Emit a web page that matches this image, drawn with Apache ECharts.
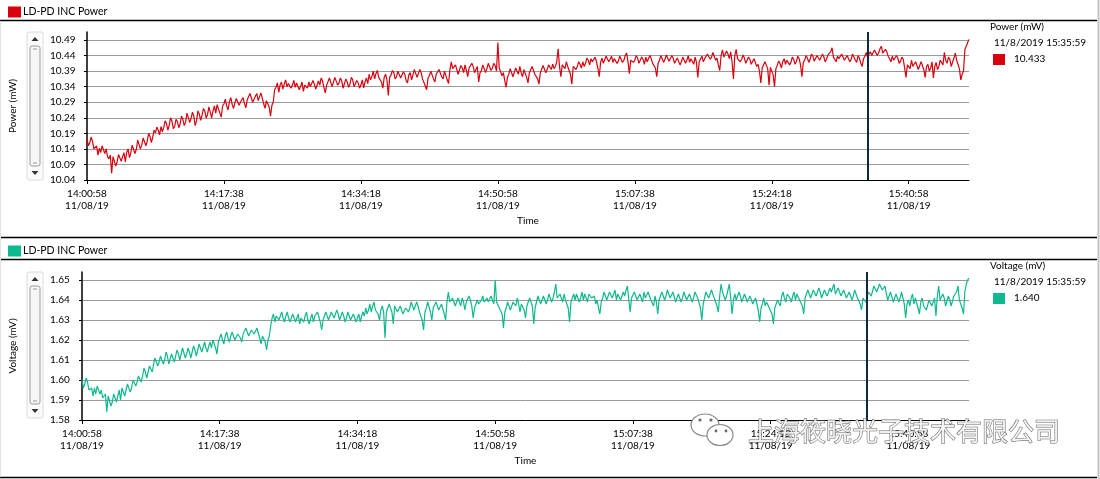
<!DOCTYPE html>
<html><head><meta charset="utf-8">
<script src="https://cdn.jsdelivr.net/npm/echarts@6.0.0/dist/echarts.min.js"></script>
<style>html,body{margin:0;padding:0;background:#fff}#c{width:1100px;height:479px}</style>
</head><body><div id="c"></div>
<script>
// ---- data (seconds after 14:00:58, one logged value every sampleStep seconds) ----
const sampleStep = 10;
const powerValues = [
10.172,10.150,10.160,10.178,10.165,10.140,10.138,10.150,10.120,10.142,10.128,10.150,10.150,10.125,10.140,10.115,10.108,10.120,10.062,10.115,10.110,10.085,10.098,10.122,10.125,10.100,10.115,10.128,10.098,10.130,10.140,10.112,10.128,10.152,10.150,10.125,10.138,10.168,10.165,10.140,10.152,10.175,10.172,10.150,10.165,10.190,10.180,10.160,10.178,10.200,10.192,10.210,10.200,10.185,10.212,10.195,10.208,10.230,10.222,10.200,10.215,10.240,10.230,10.205,10.212,10.235,10.228,10.208,10.220,10.245,10.235,10.215,10.226,10.255,10.250,10.225,10.238,10.258,10.245,10.215,10.230,10.262,10.252,10.232,10.248,10.270,10.262,10.240,10.250,10.275,10.258,10.240,10.262,10.278,10.255,10.282,10.280,10.255,10.242,10.278,
10.285,10.300,10.278,10.265,10.292,10.305,10.283,10.270,10.288,10.302,10.298,10.280,10.280,10.298,10.305,10.285,10.272,10.298,10.300,10.318,10.312,10.290,10.285,10.310,10.318,10.295,10.295,10.320,10.325,10.285,10.270,10.295,10.300,10.275,10.245,10.280,10.290,10.330,10.338,10.352,10.322,10.345,10.355,10.332,10.348,10.362,10.340,10.350,10.352,10.335,10.345,10.360,10.338,10.352,10.350,10.330,10.342,10.355,10.325,10.345,10.348,10.335,10.355,10.340,10.340,10.360,10.348,10.332,10.336,10.358,10.345,10.368,10.358,10.338,10.320,10.345,10.350,10.368,10.362,10.340,10.345,10.370,10.365,10.345,10.352,10.368,10.358,10.335,10.340,10.365,10.355,10.338,10.348,10.370,10.362,10.340,10.338,10.360,10.352,10.335,
10.345,10.362,10.336,10.355,10.368,10.350,10.380,10.362,10.372,10.390,10.365,10.382,10.392,10.370,10.372,10.355,10.335,10.370,10.380,10.362,10.312,10.370,10.378,10.392,10.385,10.365,10.372,10.390,10.388,10.368,10.365,10.388,10.380,10.360,10.352,10.378,10.385,10.362,10.378,10.395,10.390,10.370,10.372,10.395,10.385,10.365,10.360,10.342,10.330,10.368,10.375,10.390,10.388,10.365,10.355,10.380,10.380,10.395,10.392,10.372,10.365,10.390,10.385,10.362,10.350,10.395,10.420,10.398,10.395,10.410,10.405,10.380,10.385,10.408,10.400,10.385,10.410,10.392,10.372,10.400,10.398,10.415,10.405,10.385,10.390,10.405,10.355,10.385,10.392,10.410,10.405,10.385,10.398,10.415,10.410,10.392,10.400,10.415,10.408,10.390,
10.482,10.400,10.398,10.375,10.385,10.360,10.338,10.370,10.380,10.398,10.392,10.372,10.375,10.400,10.398,10.380,10.405,10.385,10.372,10.395,10.395,10.370,10.352,10.385,10.390,10.405,10.402,10.380,10.382,10.365,10.348,10.385,10.385,10.408,10.405,10.385,10.395,10.410,10.408,10.395,10.412,10.398,10.405,10.420,10.462,10.405,10.372,10.410,10.412,10.398,10.420,10.405,10.405,10.380,10.348,10.405,10.410,10.395,10.405,10.420,10.412,10.400,10.420,10.405,10.415,10.432,10.425,10.410,10.430,10.420,10.418,10.435,10.420,10.400,10.372,10.418,10.432,10.415,10.420,10.438,10.438,10.420,10.425,10.438,10.418,10.430,10.430,10.415,10.422,10.438,10.432,10.418,10.425,10.440,10.448,10.420,10.382,10.425,10.430,10.418,
10.425,10.440,10.432,10.415,10.418,10.435,10.428,10.412,10.435,10.420,10.422,10.440,10.430,10.415,10.418,10.400,10.372,10.415,10.425,10.440,10.435,10.418,10.428,10.442,10.440,10.422,10.425,10.440,10.432,10.415,10.418,10.432,10.428,10.410,10.420,10.435,10.432,10.415,10.425,10.440,10.418,10.430,10.428,10.412,10.435,10.418,10.370,10.420,10.425,10.438,10.420,10.430,10.432,10.445,10.440,10.428,10.435,10.450,10.448,10.425,10.432,10.410,10.392,10.440,10.458,10.435,10.440,10.455,10.445,10.430,10.452,10.420,10.365,10.440,10.460,10.430,10.435,10.420,10.428,10.442,10.432,10.415,10.420,10.435,10.428,10.412,10.418,10.430,10.425,10.405,10.412,10.390,10.352,10.400,10.405,10.420,10.415,10.398,10.345,10.402,
10.400,10.378,10.340,10.398,10.408,10.422,10.415,10.400,10.420,10.430,10.412,10.425,10.425,10.410,10.418,10.435,10.428,10.412,10.422,10.438,10.430,10.410,10.372,10.418,10.425,10.440,10.432,10.418,10.428,10.445,10.438,10.422,10.425,10.440,10.442,10.425,10.430,10.445,10.436,10.420,10.428,10.442,10.440,10.452,10.465,10.435,10.430,10.420,10.438,10.430,10.425,10.445,10.442,10.425,10.420,10.440,10.435,10.420,10.428,10.445,10.440,10.425,10.418,10.440,10.432,10.415,10.405,10.430,10.438,10.450,10.433,10.445,10.452,10.440,10.440,10.458,10.455,10.440,10.448,10.462,10.470,10.448,10.445,10.460,10.452,10.438,10.430,10.420,10.438,10.425,10.425,10.440,10.432,10.415,10.422,10.435,10.428,10.400,10.370,10.410,
10.415,10.398,10.425,10.405,10.405,10.420,10.420,10.395,10.398,10.420,10.425,10.395,10.370,10.405,10.412,10.390,10.400,10.420,10.368,10.405,10.418,10.395,10.405,10.425,10.425,10.410,10.450,10.425,10.415,10.435,10.428,10.405,10.410,10.432,10.448,10.425,10.420,10.398,10.362,10.380,10.390,10.460,10.470,10.482,10.492
];
const voltageValues = [
1.600,1.596,1.598,1.601,1.599,1.595,1.594,1.596,1.592,1.596,1.593,1.597,1.597,1.593,1.595,1.591,1.590,1.593,1.584,1.592,1.591,1.587,1.589,1.593,1.594,1.589,1.592,1.595,1.590,1.596,1.597,1.592,1.595,1.598,1.598,1.594,1.596,1.600,1.601,1.597,1.599,1.602,1.603,1.599,1.602,1.606,1.604,1.601,1.604,1.607,1.607,1.604,1.608,1.611,1.610,1.607,1.609,1.612,1.611,1.608,1.610,1.614,1.612,1.608,1.609,1.613,1.612,1.609,1.610,1.615,1.613,1.610,1.611,1.616,1.615,1.611,1.613,1.616,1.614,1.611,1.612,1.617,1.615,1.612,1.615,1.618,1.617,1.614,1.615,1.619,1.616,1.614,1.617,1.619,1.616,1.620,1.620,1.616,1.613,1.619,
1.621,1.623,1.620,1.618,1.622,1.624,1.621,1.619,1.622,1.624,1.623,1.620,1.620,1.623,1.624,1.621,1.619,1.623,1.623,1.626,1.625,1.622,1.621,1.625,1.626,1.623,1.622,1.626,1.627,1.621,1.618,1.622,1.623,1.619,1.615,1.620,1.622,1.627,1.631,1.633,1.629,1.632,1.633,1.630,1.632,1.634,1.631,1.629,1.632,1.634,1.631,1.629,1.630,1.633,1.632,1.629,1.631,1.633,1.628,1.631,1.631,1.629,1.632,1.634,1.630,1.628,1.631,1.633,1.629,1.632,1.631,1.634,1.633,1.629,1.625,1.630,1.631,1.634,1.633,1.630,1.630,1.634,1.634,1.631,1.632,1.635,1.633,1.630,1.629,1.634,1.632,1.629,1.631,1.634,1.633,1.630,1.629,1.633,1.631,1.629,
1.630,1.633,1.629,1.632,1.634,1.632,1.636,1.633,1.635,1.638,1.634,1.637,1.639,1.635,1.635,1.633,1.630,1.635,1.637,1.634,1.621,1.634,1.636,1.638,1.637,1.634,1.628,1.637,1.637,1.634,1.633,1.637,1.636,1.633,1.632,1.636,1.637,1.634,1.636,1.639,1.638,1.635,1.635,1.639,1.637,1.634,1.633,1.630,1.625,1.634,1.636,1.639,1.638,1.634,1.630,1.636,1.636,1.639,1.638,1.635,1.634,1.638,1.637,1.633,1.630,1.639,1.644,1.639,1.639,1.641,1.641,1.637,1.637,1.641,1.640,1.637,1.641,1.639,1.635,1.639,1.639,1.642,1.640,1.637,1.631,1.636,1.636,1.640,1.638,1.637,1.640,1.642,1.639,1.638,1.641,1.639,1.639,1.642,1.640,1.638,
1.650,1.639,1.639,1.636,1.637,1.633,1.626,1.634,1.636,1.639,1.639,1.635,1.635,1.639,1.640,1.637,1.641,1.638,1.634,1.638,1.639,1.635,1.631,1.637,1.638,1.641,1.640,1.637,1.628,1.636,1.639,1.642,1.641,1.638,1.639,1.642,1.641,1.638,1.640,1.643,1.642,1.639,1.641,1.644,1.648,1.641,1.640,1.643,1.642,1.639,1.643,1.640,1.641,1.636,1.629,1.639,1.641,1.643,1.640,1.643,1.642,1.639,1.641,1.644,1.640,1.643,1.642,1.639,1.643,1.644,1.641,1.640,1.642,1.638,1.640,1.636,1.633,1.639,1.641,1.644,1.643,1.640,1.641,1.644,1.644,1.641,1.642,1.645,1.640,1.643,1.643,1.640,1.641,1.644,1.642,1.645,1.647,1.640,1.634,1.641,
1.641,1.644,1.643,1.640,1.640,1.643,1.642,1.639,1.644,1.641,1.641,1.644,1.643,1.640,1.640,1.637,1.642,1.639,1.633,1.640,1.641,1.644,1.643,1.640,1.642,1.645,1.644,1.641,1.641,1.644,1.643,1.639,1.640,1.643,1.642,1.639,1.641,1.644,1.643,1.640,1.640,1.643,1.642,1.639,1.641,1.644,1.643,1.641,1.640,1.636,1.630,1.638,1.641,1.644,1.643,1.641,1.642,1.645,1.644,1.641,1.641,1.637,1.634,1.642,1.648,1.644,1.643,1.640,1.642,1.645,1.648,1.641,1.633,1.640,1.643,1.640,1.641,1.644,1.642,1.639,1.640,1.643,1.642,1.639,1.640,1.642,1.641,1.638,1.639,1.641,1.638,1.635,1.629,1.636,1.638,1.641,1.637,1.639,1.639,1.636,
1.636,1.633,1.628,1.636,1.637,1.640,1.640,1.637,1.642,1.644,1.641,1.639,1.643,1.644,1.641,1.639,1.642,1.644,1.640,1.643,1.643,1.640,1.641,1.637,1.633,1.641,1.642,1.645,1.644,1.641,1.642,1.645,1.645,1.642,1.643,1.646,1.644,1.641,1.642,1.645,1.645,1.642,1.643,1.646,1.644,1.643,1.648,1.643,1.643,1.646,1.645,1.642,1.642,1.645,1.644,1.641,1.641,1.644,1.643,1.640,1.642,1.645,1.644,1.641,1.641,1.638,1.635,1.641,1.642,1.639,1.640,1.644,1.645,1.642,1.643,1.647,1.646,1.644,1.644,1.648,1.649,1.645,1.644,1.647,1.643,1.640,1.641,1.644,1.643,1.639,1.640,1.643,1.642,1.639,1.641,1.644,1.643,1.638,1.631,1.638,
1.640,1.637,1.641,1.643,1.638,1.641,1.640,1.636,1.633,1.639,1.641,1.637,1.638,1.635,1.634,1.640,1.640,1.637,1.638,1.641,1.632,1.642,1.647,1.640,1.639,1.643,1.641,1.637,1.638,1.642,1.640,1.637,1.637,1.642,1.641,1.644,1.647,1.640,1.639,1.636,1.633,1.644,1.648,1.650,1.651
];
const xTickValues = [0, 1000, 2000, 3000, 4000, 5000, 6000];
const xTickLabels = ['14:00:58', '14:17:38', '14:34:18', '14:50:58', '15:07:38', '15:24:18', '15:40:58'];
const xDateLabel = '11/08/19';
const xEnd = 6440;
const cursorTime = 5700;
const cursorStamp = '11/8/2019 15:35:59';
const cursorPower = '10.433';
const cursorVoltage = '1.640';
const powerAxis = { min: 10.04, interval: 0.05, top: 10.49 };
const voltageAxis = { min: 1.58, interval: 0.01, top: 1.65 };
const titleText = 'LD-PD INC Power';
const powerName = 'Power (mW)';
const voltageName = 'Voltage (mV)';
const watermarkText = '上海筱晓光子技术有限公司';

// ---- build ----
const powerData = powerValues.map((v, i) => [i * sampleStep, v]);
const voltageData = voltageValues.map((v, i) => [i * sampleStep, v]);
const RED = '#d9000d', TEAL = '#0fb98f';
const FONT = 'Lato, "Noto Sans", sans-serif';

const G = [
  { left: 87, top: 32, width: 882, height: 148 },
  { left: 82, top: 272, width: 887, height: 148 }
];
function axisMax(a, g) { return a.min + (a.top - a.min) * g.height / 140; }

function xAxisCfg(i) {
  return {
    type: 'value', gridIndex: i, min: 0, max: xEnd,
    name: 'Time', nameLocation: 'middle', nameGap: 36,
    nameTextStyle: { color: '#000', fontSize: 10, fontFamily: FONT },
    axisLine: { lineStyle: { color: '#000', width: 1 } },
    axisTick: { customValues: xTickValues, length: 4, lineStyle: { color: '#000' } },
    axisLabel: {
      customValues: xTickValues, margin: 8, color: '#000', fontSize: 10, lineHeight: 12, fontFamily: FONT,
      formatter: v => xTickLabels[xTickValues.indexOf(v)] + '\n' + xDateLabel
    },
    splitLine: { show: false }
  };
}
function yAxisCfg(i, a, name, gap, lm) {
  return {
    type: 'value', gridIndex: i, min: a.min, max: axisMax(a, G[i]), interval: a.interval,
    name: name, nameLocation: 'middle', nameGap: gap, nameRotate: 90,
    nameTextStyle: { color: '#000', fontSize: 10, fontFamily: FONT },
    axisLine: { show: true, lineStyle: { color: '#000', width: 1.5 } },
    axisTick: { show: true, length: 3, lineStyle: { color: '#000' } },
    axisLabel: { color: '#000', fontSize: 10, fontFamily: FONT, margin: lm, align: 'left', showMaxLabel: false,
      formatter: v => v.toFixed(2) },
    splitLine: { show: true, showMaxLine: false, lineStyle: { color: '#9a9a9a', width: 1 } }
  };
}
function cursorLine() {
  return { silent: true, symbol: ['none', 'none'], label: { show: false },
    lineStyle: { color: '#0c2a42', width: 2, type: 'solid' }, emphasis: { disabled: true },
    data: [{ xAxis: cursorTime }] };
}
function scrollbar(y0, h) {
  const x0 = 27, w = 16;
  return [
    { type: 'rect', shape: { x: x0, y: y0, width: w, height: h, r: 2 }, style: { fill: '#fbfbfb', stroke: '#dadada', lineWidth: 1 } },
    { type: 'polygon', shape: { points: [[x0 + 4.5, y0 + 9], [x0 + 11.5, y0 + 9], [x0 + 8, y0 + 5]] }, style: { fill: '#333' } },
    { type: 'polygon', shape: { points: [[x0 + 4.5, y0 + h - 9], [x0 + 11.5, y0 + h - 9], [x0 + 8, y0 + h - 5]] }, style: { fill: '#333' } },
    { type: 'rect', shape: { x: x0 + 3, y: y0 + 14, width: 10, height: h - 28, r: 2 }, style: { fill: '#f6f6f6', stroke: '#9c9c9c', lineWidth: 1 } },
    { type: 'line', shape: { x1: x0 + 6, y1: y0 + 17, x2: x0 + 10, y2: y0 + 17 }, style: { stroke: '#999', lineWidth: 1 } },
    { type: 'line', shape: { x1: x0 + 6, y1: y0 + h - 17, x2: x0 + 10, y2: y0 + h - 17 }, style: { stroke: '#999', lineWidth: 1 } }
  ];
}
function header(y, color) {
  return [
    { type: 'rect', shape: { x: 8, y: y - 5, width: 13, height: 11 }, style: { fill: color } },
    { type: 'text', x: 23, y: y, style: { text: titleText, fill: '#000', font: '10.5px ' + FONT, verticalAlign: 'middle' } }
  ];
}
function readout(y, name, color, value) {
  return [
    { type: 'text', x: 990, y: y, style: { text: name, fill: '#000', font: '10px ' + FONT, verticalAlign: 'middle' } },
    { type: 'text', x: 994, y: y + 16, style: { text: cursorStamp, fill: '#000', font: '10px ' + FONT, verticalAlign: 'middle' } },
    { type: 'rect', shape: { x: 993, y: y + 27, width: 12, height: 11 }, style: { fill: color } },
    { type: 'text', x: 1014, y: y + 32, style: { text: value, fill: '#000', font: '10px ' + FONT, verticalAlign: 'middle' } }
  ];
}
function hline(y, w, c) { return { type: 'line', shape: { x1: 0, y1: y, x2: 1097, y2: y }, style: { stroke: c || '#000', lineWidth: w } }; }

const wm = [
  { type: 'ellipse', shape: { cx: 705, cy: 425, rx: 14, ry: 11 }, style: { fill: '#fff', stroke: '#8a8a8a', lineWidth: 1.2 } },
  { type: 'circle', shape: { cx: 700, cy: 420, r: 1.6 }, style: { fill: '#666' } },
  { type: 'circle', shape: { cx: 711, cy: 420, r: 1.6 }, style: { fill: '#666' } },
  { type: 'ellipse', shape: { cx: 720, cy: 435, rx: 13, ry: 10.5 }, style: { fill: '#fff', stroke: '#8a8a8a', lineWidth: 1.2 } },
  { type: 'circle', shape: { cx: 716, cy: 431, r: 1.4 }, style: { fill: '#666' } },
  { type: 'circle', shape: { cx: 726, cy: 431, r: 1.4 }, style: { fill: '#666' } },
  { type: 'text', x: 748, y: 431, style: { text: watermarkText, fill: 'rgba(250,250,250,0.85)', stroke: '#666', lineWidth: 1,
      font: '26px "Noto Sans CJK SC"', verticalAlign: 'middle' } }
];

const chart = echarts.init(document.getElementById('c'), null, { renderer: 'canvas' });
chart.setOption({
  animation: false,
  backgroundColor: '#fff',
  grid: G.map(g => Object.assign({ containLabel: false }, g)),
  xAxis: [xAxisCfg(0), xAxisCfg(1)],
  yAxis: [yAxisCfg(0, powerAxis, powerName, 69, 37), yAxisCfg(1, voltageAxis, voltageName, 64, 32)],
  series: [
    { type: 'line', xAxisIndex: 0, yAxisIndex: 0, data: powerData, showSymbol: false,
      lineStyle: { color: RED, width: 1.2 }, itemStyle: { color: RED }, emphasis: { disabled: true }, markLine: cursorLine() },
    { type: 'line', xAxisIndex: 1, yAxisIndex: 1, data: voltageData, showSymbol: false,
      lineStyle: { color: TEAL, width: 1.2 }, itemStyle: { color: TEAL }, emphasis: { disabled: true }, markLine: cursorLine() }
  ],
  graphic: { elements: [].concat(
    header(11.5, RED), [hline(20.5, 1.5), hline(237.5, 1.5)],
    header(250.5, TEAL), [hline(259.5, 1.5), hline(477.5, 1.5)],
    [{ type: 'line', shape: { x1: 1098.5, y1: 0, x2: 1098.5, y2: 479 }, style: { stroke: '#c4c4c4', lineWidth: 2 } },
     { type: 'line', shape: { x1: 0.5, y1: 21, x2: 0.5, y2: 477 }, style: { stroke: '#e2e2e2', lineWidth: 1 } }],
    scrollbar(32, 148), scrollbar(272, 146),
    readout(27, powerName, RED, cursorPower),
    readout(266, voltageName, TEAL, cursorVoltage),
    wm.map(e => Object.assign({ z: 100 }, e))
  ) }
});
</script></body></html>
